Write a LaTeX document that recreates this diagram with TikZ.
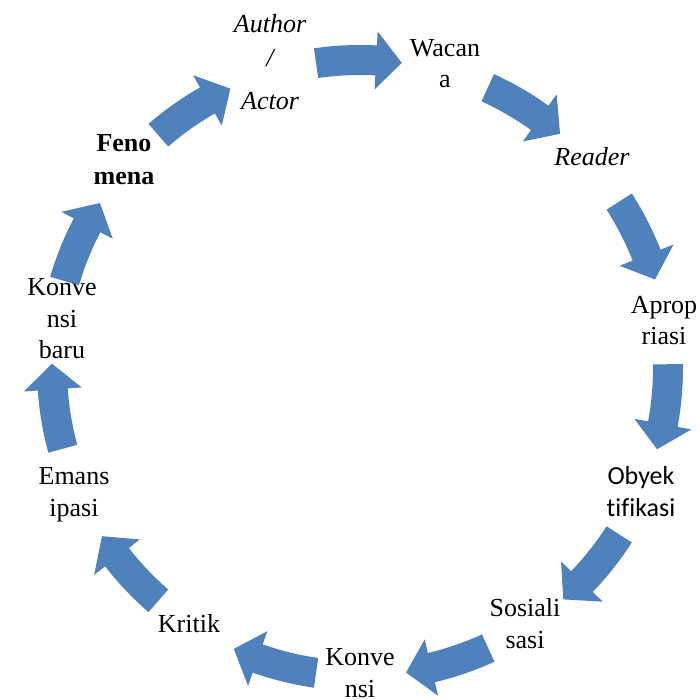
\documentclass[tikz,border=0pt]{standalone}
\usepackage{fontspec}
\setmainfont{Liberation Serif}
\newfontfamily\calibrifont[Ligatures=NoCommon]{Carlito}
\definecolor{cycblue}{HTML}{4F81BD}
\tikzset{
  lbl/.style={align=center, inner sep=0pt, anchor=base, font=\fontsize{26}{31.5}\selectfont},
  cycarr/.style={fill=cycblue}
}
% curved block arrow on the ring, #1 = middle angle
\newcommand{\cycarrow}[1]{%
  \fill[cycarr, shift={(cent)}] (#1+8.2:323) arc[start angle=#1+8.2, end angle=#1-3, radius=323]
    -- (#1-3:337) -- (#1-7.8:308) -- (#1-3:279) -- (#1-3:293)
    arc[start angle=#1-3, end angle=#1+8.2, radius=293] -- cycle;}
\begin{document}
\begin{tikzpicture}[x=1pt, y=1pt]
    \useasboundingbox (0,0) rectangle (700,699);
    \coordinate (cent) at (360,331);
    % labels (anchored at the baseline of the last line)
    \node[lbl, font=\fontsize{26}{32}\selectfont\itshape] (author) at (270,589) {Author\\[2pt]/\\[11pt]Actor};
    \node[lbl] (wacana) at (445,611) {Wacan\\a};
    \node[lbl, font=\fontsize{26}{32}\selectfont\itshape] (reader) at (592,533) {Reader};
    \node[lbl] (apro) at (664,354) {Aprop\\riasi};
    \node[lbl, font=\fontsize{26}{32}\selectfont\calibrifont] (obyek) at (641,183) {Obyek\\tifikasi};
    \node[lbl] (sosial) at (525,51) {Sosiali\\sasi};
    \node[lbl] (konv) at (360,2) {Konve\\nsi};
    \node[lbl] (kritik) at (189,67) {Kritik};
    \node[lbl] (emans) at (74,183) {Emans\\ipasi};
    \node[lbl] (konvbaru) at (62,340) {Konve\\nsi\\baru};
    \node[lbl, font=\fontsize{26}{33}\selectfont\bfseries] (feno) at (124,514) {Feno\\mena};
    % arrows
    \cycarrow{90}
    \cycarrow{57.3}
    \cycarrow{24.5}
    \cycarrow{-7.5}
    \cycarrow{-40.9}
    \cycarrow{-73.6}
    \cycarrow{-106.4}
    \cycarrow{-139.1}
    \cycarrow{-173}
    \cycarrow{155.4}
    \cycarrow{122.7}
\end{tikzpicture}
\end{document}
